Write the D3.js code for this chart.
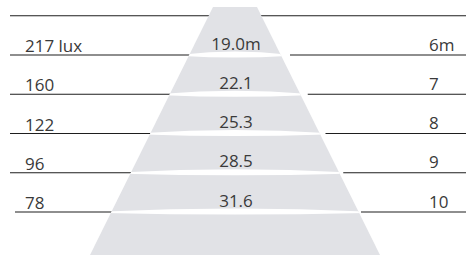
<!DOCTYPE html>
<html>
<head>
<meta charset="utf-8">
<script src="https://cdn.jsdelivr.net/npm/d3@7"></script>
<style>
  html, body { margin: 0; padding: 0; background: #fff; }
  svg { display: block; }
  text { font-family: "Open Sans", sans-serif; font-size: 17px; fill: #3a3a3a; }
</style>
</head>
<body>
<div id="container"></div>
<script>
const distances = [6, 7, 8, 9, 10];          // metres
const lux = [217, 160, 122, 96, 78];          // illuminance
const diameters = [19.0, 22.1, 25.3, 28.5, 31.6]; // beam diameter

const w = 466; // canvas width
const h = 255; // canvas height
const cx = 235; // cone axis

const svg = d3.select("#container").append("svg").attr("width", w).attr("height", h);

// distance -> y
const yScale = d3.scaleLinear().domain([6, 10]).range([55, 212]);
// half width of the cone along the distance axis
const halfW = d3.scaleLinear().domain([yScale.invert(7), yScale.invert(255)]).range([22, 145]);
// right-hand rules start a bit off the cone edge
const rightStart = d3.scaleLinear().domain([6, 10]).range([290, 361]);

const leftEdge = (d) => cx - halfW(d);
const rightEdge = (d) => cx + halfW(d);

// rules (top one is the 5m line)
const rules = [5].concat(distances);
const g = svg.append("g");
rules.forEach((d) => {
    const y = yScale(d);
    g.append("line").attr("x1", d === 10 ? 15 : 10).attr("x2", leftEdge(d) + 1)
        .attr("y1", y).attr("y2", y).attr("stroke", "#1e1e1e").attr("stroke-width", 1.2);
    g.append("line").attr("x1", d === 5 ? rightEdge(d) - 2 : rightStart(d)).attr("x2", w)
        .attr("y1", y).attr("y2", y).attr("stroke", "#1e1e1e").attr("stroke-width", 1.2);
});

// cone
const dTop = yScale.invert(7), dBot = yScale.invert(255);
const cone = d3.path();
cone.moveTo(leftEdge(dTop), yScale(dTop));
cone.lineTo(rightEdge(dTop), yScale(dTop));
cone.lineTo(rightEdge(dBot), yScale(dBot));
cone.lineTo(leftEdge(dBot), yScale(dBot));
cone.closePath();

svg.append("clipPath").attr("id", "coneClip").append("path").attr("d", cone.toString());
svg.append("path").attr("d", cone.toString()).attr("fill", "#e1e2e6");

// white lens gaps between bands
const lens = svg.append("g").attr("clip-path", "url(#coneClip)");
distances.forEach((d) => {
    const y = yScale(d);
    const xl = leftEdge(d) - 6, xr = rightEdge(d) + 6;
    const p = d3.path();
    p.moveTo(xl, y - 0.5);
    p.quadraticCurveTo(cx, y - 6.5, xr, y - 0.5);
    p.lineTo(xr, y + 1);
    p.quadraticCurveTo(cx, y + 4, xl, y + 1);
    p.closePath();
    lens.append("path").attr("d", p.toString()).attr("fill", "#fff");
});

// labels
svg.selectAll(".lux").data(distances).enter().append("text")
    .attr("class", "lux").attr("x", 25).attr("y", (d) => yScale(d) - 3)
    .text((d, i) => i === 0 ? `${lux[i]} lux` : lux[i]);

svg.selectAll(".dia").data(distances).enter().append("text")
    .attr("class", "dia").attr("x", cx + 1).attr("y", (d) => yScale(d) - 5.5)
    .attr("text-anchor", "middle")
    .text((d, i) => i === 0 ? `${diameters[i].toFixed(1)}m` : diameters[i].toFixed(1));

svg.selectAll(".dist").data(distances).enter().append("text")
    .attr("class", "dist").attr("x", 429).attr("y", (d) => yScale(d) - 4.5)
    .text((d, i) => i === 0 ? `${d}m` : d);
</script>
</body>
</html>
